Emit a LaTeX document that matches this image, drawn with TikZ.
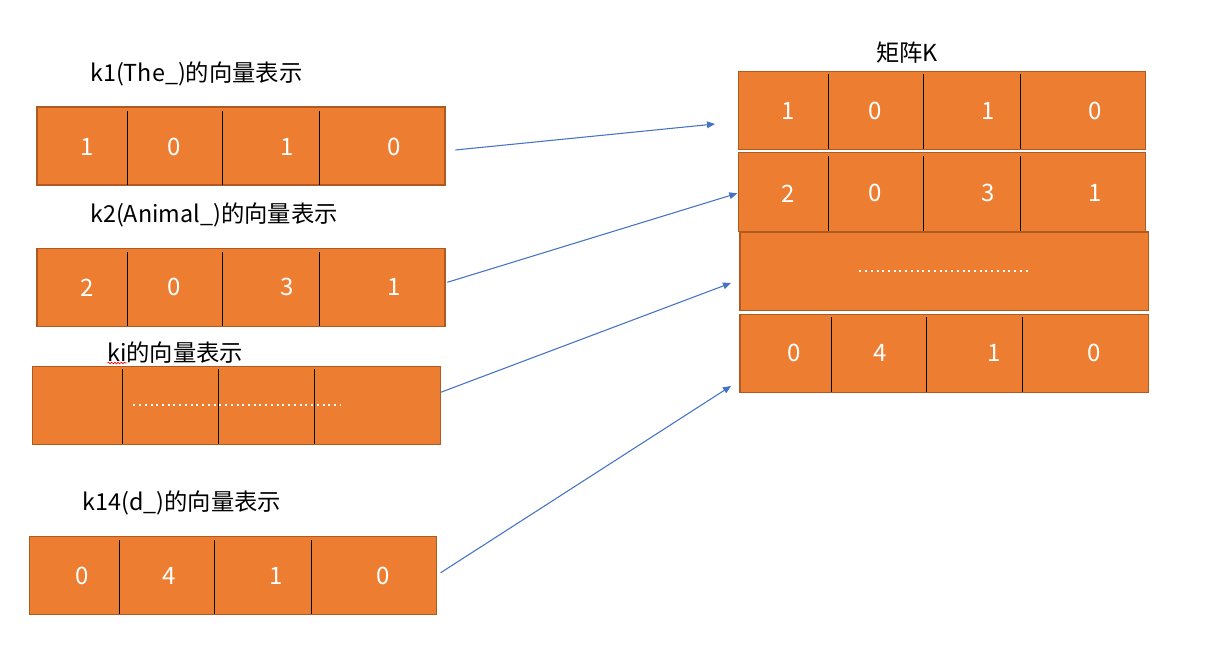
\documentclass[tikz,border=0pt]{standalone}
\usepackage{fontspec}
\setmainfont{Noto Sans CJK SC}
\usetikzlibrary{arrows.meta,fit,decorations.pathmorphing}
\definecolor{org}{HTML}{ED7D31}
\definecolor{orgb}{HTML}{AE5A21}
\definecolor{arrblue}{HTML}{4472C4}
\begin{document}
\begin{tikzpicture}[x=0.75pt,y=-0.75pt,
  vec/.style={draw=orgb, fill=org, line width=1.1pt, inner sep=0pt},
  div/.style={black, line width=0.75pt},
  num/.style={text=white, inner sep=0pt, font=\fontsize{18}{20}\selectfont},
  lab/.style={anchor=west, inner sep=0pt, font=\fontsize{17.5}{20}\selectfont},
  arr/.style={arrblue, line width=0.8pt, -{Triangle[length=6pt,width=5pt]}},
  dotline/.style={white, line width=1.5pt, dash pattern=on 1.5pt off 2.8pt}]
\useasboundingbox (0,0) rectangle (1212,657);

% ---------- left vectors ----------
\node[lab] (l1) at (90,74) {k1(The\_)的向量表示};
\node[vec, fit={(37,107) (445,185)}] (k1) {};
\foreach \x in {127,222,319} \draw[div] (\x,110.7) -- (\x,185);
\foreach \x/\v in {86.7/1,173.7/0,286.7/1,394/0} \node[num] at (\x,146.7) {\v};

\node[lab] (l2) at (90,215) {k2(Animal\_)的向量表示};
\node[vec, fit={(37,248.3) (445,326.3)}] (k2) {};
\foreach \x in {127,222,319} \draw[div] (\x,251.5) -- (\x,326.3);
\foreach \x/\v in {86.7/2,173.7/0,286.7/3,394/1} \node[num] at (\x,287.3) {\v};

\node[lab] (l3) at (107,353) {ki的向量表示};
\draw[red, line width=0.5pt, decorate, decoration={snake, amplitude=0.6pt, segment length=2.4pt}] (107.5,363) -- (126.5,363);
\node[vec, fit={(32.3,366.3) (440.7,444.3)}] (ki) {};
\foreach \x in {122.3,218.3,314.3} \draw[div] (\x,369.3) -- (\x,444.3);
\draw[dotline] (133.3,404.7) -- (340,404.7);

\node[lab] (l4) at (82.3,503) {k14(d\_)的向量表示};
\node[vec, fit={(29.3,536.3) (436.7,614.3)}] (k14) {};
\foreach \x in {119.3,214.3,311.3} \draw[div] (\x,539.5) -- (\x,614.3);
\foreach \x/\v in {82.3/0,169/4,275.7/1,382.7/0} \node[num] at (\x,575.7) {\v};

% ---------- matrix K ----------
\node[lab] (lk) at (876,53) {矩阵K};
\node[vec, fit={(738.3,71.3) (1145.7,149.3)}] (r1) {};
\foreach \x in {828.3,923.3,1020.3} \draw[div] (\x,74.3) -- (\x,149.3);
\foreach \x/\v in {787.7/1,874.7/0,988/1,1095.3/0} \node[num] at (\x,110.7) {\v};

\node[vec, fit={(738.3,152.3) (1145.7,231.3)}] (r2) {};
\foreach \x in {828.3,923.3,1020.3} \draw[div] (\x,156) -- (\x,231.3);
\foreach \x/\v in {787.7/2,874.7/0,988/3,1095.3/1} \node[num] at (\x,193.3) {\v};

\node[vec, fit={(740,232) (1148.7,310.3)}] (r3) {};
\draw[dotline] (859.3,270.7) -- (1031,270.7);

\node[vec, fit={(740,314.3) (1148.7,392.3)}] (r4) {};
\foreach \x in {831.3,926.3,1022.3} \draw[div] (\x,317.3) -- (\x,392.3);
\foreach \x/\v in {793.7/0,880.3/4,994/1,1094.3/0} \node[num] at (\x,353.3) {\v};

% ---------- arrows ----------
\coordinate (a1s) at (455.3,150);   \coordinate (a1e) at (715,124);
\coordinate (a2s) at (447.3,282.3); \coordinate (a2e) at (737.3,193.3);
\coordinate (a3s) at (440.7,392.3); \coordinate (a3e) at (731,283);
\coordinate (a4s) at (440.7,572.7); \coordinate (a4e) at (731,386);
\draw[arr] (a1s) -- (a1e);
\draw[arr] (a2s) -- (a2e);
\draw[arr] (a3s) -- (a3e);
\draw[arr] (a4s) -- (a4e);
\end{tikzpicture}
\end{document}
